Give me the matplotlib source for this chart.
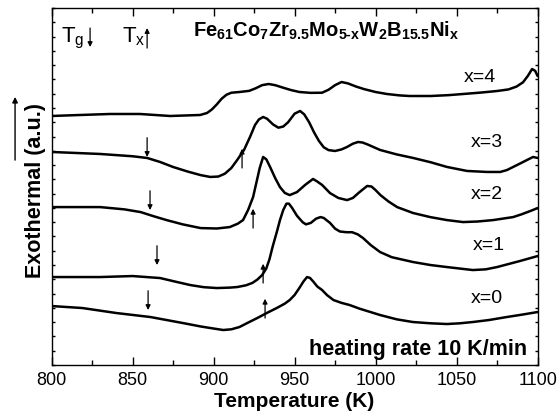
import numpy as np
import matplotlib
matplotlib.use("Agg")
import matplotlib.pyplot as plt
from matplotlib.ticker import MultipleLocator

plt.rcParams['font.family'] = ['Liberation Sans', 'DejaVu Sans']
plt.rcParams['mathtext.fontset'] = 'custom'
plt.rcParams['mathtext.rm'] = 'Liberation Sans'
plt.rcParams['mathtext.bf'] = 'Liberation Sans:bold'
plt.rcParams['mathtext.it'] = 'Liberation Sans:italic'

# ---- data (temperature in K, exothermal signal in a.u.) ----
T_x4 = [800, 817.6, 836.1, 854.6, 873.2, 891.7, 896, 899, 902, 905, 908, 911, 916, 922, 926, 930,
        934, 938, 943, 948, 953, 960, 967, 971, 975, 979, 983, 988, 993, 1000, 1007, 1015, 1021,
        1034, 1045, 1054, 1065, 1075, 1082, 1087, 1091, 1094, 1096.6, 1098.5, 1100]
S_x4 = [17.44, 17.51, 17.58, 17.58, 17.44, 17.51, 17.65, 17.9, 18.25, 18.65, 18.93, 19.07, 19.12,
        19.2, 19.38, 19.6, 19.68, 19.6, 19.42, 19.25, 19.12, 19.06, 19.07, 19.28, 19.6, 19.82,
        19.72, 19.5, 19.32, 19.12, 18.98, 18.88, 18.84, 18.84, 18.9, 18.98, 19.08, 19.19, 19.3,
        19.5, 19.8, 20.25, 20.73, 20.6, 20.24]

T_x3 = [800, 830, 850, 859, 867, 875, 884, 892, 898, 903, 907, 911, 914.6, 918.8, 922.5, 925.6,
        928, 930.6, 933, 936.7, 940, 943, 946, 950, 953.4, 956, 959, 962, 965, 968, 971, 975,
        979, 982.4, 986, 989.2, 992, 995, 1002.8, 1013, 1023.2, 1034, 1044.1, 1056.5, 1068.8,
        1076.9, 1081, 1084.9, 1089, 1093.5, 1097.2, 1100]
S_x3 = [14.92, 14.78, 14.62, 14.50, 14.22, 13.87, 13.55, 13.3, 13.17, 13.2, 13.4, 13.8, 14.36,
        15.06, 15.97, 16.81, 17.2, 17.37, 17.25, 16.85, 16.62, 16.7, 17.0, 17.6, 17.79, 17.55,
        17.0, 16.3, 15.7, 15.25, 15.05, 14.99, 15.1, 15.27, 15.5, 15.62, 15.58, 15.45, 15.06,
        14.75, 14.50, 14.2, 13.87, 13.59, 13.52, 13.52, 13.65, 13.87, 14.1, 14.36, 14.57, 14.50]

T_x2 = [800, 830, 845, 855, 863, 871, 881, 892, 902, 910, 915, 918.2, 921.3, 924.4, 926.5, 928.5,
        930.6, 932.6, 934.9, 938, 941, 944, 947, 951.5, 956.5, 961.4, 964, 967, 971.9, 977,
        982.4, 986, 990, 994.8, 997.5, 1000, 1003, 1008, 1013.3, 1023, 1033.7, 1044, 1054, 1063,
        1072.6, 1084.9, 1090, 1095.4, 1100]
S_x2 = [11.06, 11.06, 10.9, 10.71, 10.42, 10.15, 9.85, 9.59, 9.56, 9.66, 9.9, 10.15, 10.85, 11.76,
        12.8, 13.8, 14.57, 14.4, 13.87, 13.1, 12.46, 12.05, 11.9, 12.11, 12.61, 13.03, 12.85,
        12.61, 12.04, 11.7, 11.55, 11.7, 12.1, 12.54, 12.5, 12.25, 11.9, 11.45, 11.06, 10.65,
        10.36, 10.15, 10.01, 10.05, 10.15, 10.36, 10.55, 10.78, 10.99]

T_x1 = [800, 830, 850, 867, 876, 885.6, 894, 902, 910, 914.6, 920, 924, 927, 930, 932.5, 934.5,
        936.5, 939, 941, 943, 945, 946.5, 948.5, 951.5, 955, 957, 960, 963.3, 966, 968, 971.9,
        975, 978, 982, 985.5, 989, 992.3, 997, 1002.8, 1010, 1023.2, 1034, 1044, 1060, 1068,
        1075, 1089, 1100]
S_x1 = [6.16, 6.16, 6.23, 6.09, 5.85, 5.60, 5.45, 5.39, 5.42, 5.46, 5.58, 5.75, 5.98, 6.3, 6.75,
        7.4, 8.3, 9.3, 10.15, 10.85, 11.3, 11.3, 11.0, 10.45, 10.0, 9.85, 9.95, 10.25, 10.36,
        10.3, 9.95, 9.55, 9.35, 9.3, 9.3, 9.15, 8.89, 8.4, 7.91, 7.55, 7.21, 7.0, 6.86, 6.65,
        6.7, 6.86, 7.28, 7.63]

T_x0 = [800, 819, 840, 861, 881, 892, 898, 906, 911, 916, 921, 927, 933, 939, 944, 947, 950, 953,
        955.5, 957.7, 959.5, 961.5, 964, 967, 970, 974, 979, 984, 990, 1002.8, 1013, 1023, 1034,
        1044, 1052, 1060, 1070, 1081, 1090, 1100]
S_x0 = [4.13, 3.99, 3.64, 3.36, 2.94, 2.7, 2.59, 2.45, 2.5, 2.66, 2.95, 3.29, 3.65, 3.99, 4.3,
        4.55, 4.9, 5.4, 5.85, 6.16, 6.1, 5.85, 5.5, 5.25, 4.9, 4.55, 4.35, 4.2, 3.95, 3.50, 3.2,
        3.01, 2.92, 2.87, 2.92, 3.01, 3.15, 3.36, 3.52, 3.71]

curve_labels = ['x=4', 'x=3', 'x=2', 'x=1', 'x=0']
label_T = [1064.5, 1068.8, 1068.8, 1070.0, 1068.8]
label_S = [20.17, 15.55, 11.97, 8.40, 4.69]

# glass transition (Tg) and crystallization onset (Tx) markers: x=3, x=2, x=1, x=0
Tg_T = [859.0, 860.8, 865.1, 859.6]
Tg_S = [14.57, 10.85, 7.00, 3.85]
Tx_T = [917.6, 924.4, 930.6, 931.8]
Tx_S = [13.80, 9.59, 5.74, 3.29]

fig = plt.figure(figsize=(5.6, 4.17), dpi=100)
ax = fig.add_axes([0.092, 0.1247, 0.868, 0.856])

for T, S in [(T_x4, S_x4), (T_x3, S_x3), (T_x2, S_x2), (T_x1, S_x1), (T_x0, S_x0)]:
    ax.plot(T, S, color='black', lw=1.8, solid_joinstyle='round', solid_capstyle='round')

for lab, t, s in zip(curve_labels, label_T, label_S):
    ax.text(t, s, lab, fontsize=14, ha='center', va='center')

aprops = dict(arrowstyle='-|>', color='black', lw=0.9, mutation_scale=7,
              shrinkA=0, shrinkB=0)
for t, s in zip(Tg_T, Tg_S):
    ax.annotate('', xy=(t, s), xytext=(t, s + 1.35), arrowprops=aprops)
for t, s in zip(Tx_T, Tx_S):
    ax.annotate('', xy=(t, s + 1.35), xytext=(t, s), arrowprops=aprops)

# legend-like symbols at top left
ax.text(805.8, 22.62, r'$\mathrm{T_g}$', fontsize=16, ha='left', va='baseline')
ax.annotate('', xy=(823.8, 22.27), xytext=(823.8, 23.6), arrowprops=aprops)
ax.text(843.8, 22.62, r'$\mathrm{T_x}$', fontsize=16, ha='left', va='baseline')
ax.annotate('', xy=(859.0, 23.6), xytext=(859.0, 22.2), arrowprops=aprops)

ax.text(887.4, 22.97, r'$\mathbf{Fe_{61}Co_{7}Zr_{9.5}Mo_{5‐x}W_{2}B_{15.5}Ni_{x}}$',
        fontsize=14.5, ha='left', va='baseline')
ax.text(1093.5, 0.70, 'heating rate 10 K/min', fontsize=15.5, fontweight='bold',
        ha='right', va='baseline')

ax.set_xlim(800, 1100)
ax.set_ylim(0, 25)
ax.xaxis.set_major_locator(MultipleLocator(50))
ax.xaxis.set_minor_locator(MultipleLocator(25))
ax.yaxis.set_major_locator(MultipleLocator(1))
ax.tick_params(axis='x', which='major', direction='in', length=6, width=1, top=True,
               labelsize=13, pad=5)
ax.tick_params(axis='x', which='minor', direction='in', length=3.5, width=1, top=True)
ax.tick_params(axis='y', which='major', direction='in', length=2.5, width=1, right=True,
               labelleft=False)
for sp in ax.spines.values():
    sp.set_linewidth(1.0)

ax.set_xlabel('Temperature (K)', fontsize=15, fontweight='bold', labelpad=2)
ax.set_ylabel('Exothermal (a.u.)', fontsize=15.5, fontweight='bold')
ax.yaxis.set_label_coords(-0.012, 0.49)
ax.annotate('', xy=(-0.075, 0.751), xytext=(-0.075, 0.574), xycoords='axes fraction',
            textcoords='axes fraction', annotation_clip=False,
            arrowprops=dict(arrowstyle='-|>', color='black', lw=1.0, mutation_scale=8,
                            shrinkA=0, shrinkB=0))

fig.savefig('out.png', dpi=100)
